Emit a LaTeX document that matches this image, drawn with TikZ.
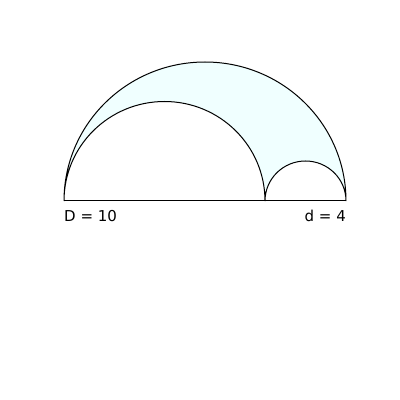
\documentclass[tikz,border=0pt]{standalone}
\usepackage{fontspec}
\setmainfont{DejaVu Sans}
\usepackage{tikz}
\usetikzlibrary{positioning}

\begin{document}
\begin{tikzpicture}[
  x=1pt, y=1pt,
  font=\fontsize{15}{17}\selectfont,
  edge/.style={draw, line width=1pt},
  lab/.style={inner sep=0pt}
]
\useasboundingbox (0,0) rectangle (400,400);
% end points on the diameter
\coordinate (A) at (64,199);
\coordinate (B) at (265,199);
\coordinate (C) at (346,199);
% shaded region between the big arc and the two small ones
\path[edge, fill={rgb,255:red,240;green,255;blue,255}]
  (A) arc[start angle=180, end angle=0, x radius=141, y radius=139]
  arc[start angle=0, end angle=180, x radius=40.5, y radius=40]
  arc[start angle=0, end angle=180, x radius=100.5, y radius=99.5] -- cycle;
\draw[edge] (A) -- (C);
\node[lab, anchor=north west] (Dlab) at ([yshift=-9pt]A) {D = 10};
\node[lab, anchor=north east] (dlab) at ([yshift=-9pt]C) {d = 4};
\end{tikzpicture}
\end{document}
